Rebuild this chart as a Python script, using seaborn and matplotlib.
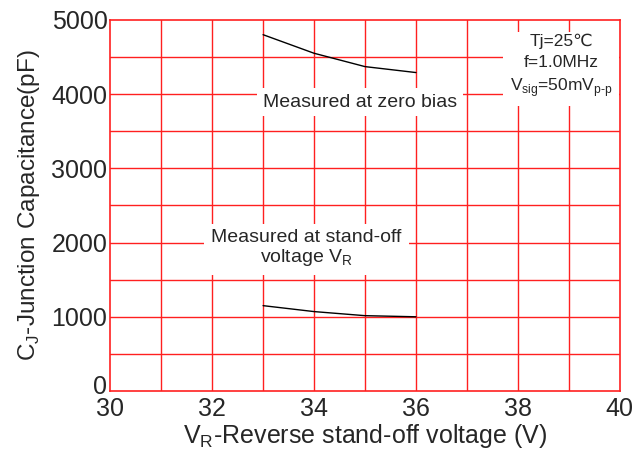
import matplotlib
matplotlib.use('Agg')
import matplotlib.pyplot as plt
import matplotlib.transforms as mtransforms
import seaborn as sns
import pandas as pd

# Donnees
vr_zero = [33, 34, 35, 36]
cj_zero = [4800, 4550, 4370, 4290]
vr_standoff = [33, 34, 35, 36]
cj_standoff = [1150, 1070, 1015, 1000]

x_ticks = [30, 32, 34, 36, 38, 40]
y_ticks = [0, 1000, 2000, 3000, 4000, 5000]

sns.set_style('white')
plt.rcParams['font.family'] = ['Liberation Sans', 'DejaVu Sans']
plt.rcParams['mathtext.fontset'] = 'custom'
plt.rcParams['mathtext.rm'] = 'Liberation Sans'

df_zero = pd.DataFrame({'VR': vr_zero, 'CJ': cj_zero})
df_so = pd.DataFrame({'VR': vr_standoff, 'CJ': cj_standoff})

fig = plt.figure(figsize=(6.37, 4.51), dpi=100)
ax = fig.add_axes([0.173, 0.133, 0.8, 0.823])

ax.set_xlim(30, 40)
ax.set_ylim(0, 5000)

# grille rouge
for xv in range(31, 40):
    ax.axvline(xv, color='#ff2020', lw=1, zorder=1)
for yv in range(500, 5000, 500):
    ax.axhline(yv, color='#ff2020', lw=1, zorder=1)
for s in ax.spines.values():
    s.set_color('#ff2020')
    s.set_linewidth(1.2)

sns.lineplot(data=df_zero, x='VR', y='CJ', ax=ax, color='black', lw=1, zorder=3)
sns.lineplot(data=df_so, x='VR', y='CJ', ax=ax, color='black', lw=1, zorder=3)

ax.set_xticks(x_ticks)
ax.set_yticks(y_ticks)
ax.tick_params(axis='x', labelsize=18, length=0, pad=4)
ax.tick_params(axis='y', labelsize=18, length=0, pad=2)

# le "0" est un peu remonte comme sur l'original
lbl0 = ax.get_yticklabels()[0]
lbl0.set_transform(lbl0.get_transform() +
                   mtransforms.ScaledTranslation(0, 5 / 72, fig.dpi_scale_trans))

ax.set_xlabel(r'V$_\mathregular{R}$-Reverse stand-off voltage (V)', fontsize=18, labelpad=1)
ax.set_ylabel(r'C$_\mathregular{J}$-Junction Capacitance(pF)', fontsize=17.5, labelpad=7)

ax.text(34.9, 3890, 'Measured at zero bias', fontsize=14, ha='center', va='center',
        bbox=dict(facecolor='white', edgecolor='none', pad=4), zorder=4)
ax.text(33.85, 1920, 'Measured at stand-off\nvoltage V$_\\mathregular{R}$', fontsize=14,
        ha='center', va='center', linespacing=1.1,
        bbox=dict(facecolor='white', edgecolor='none', pad=5), zorder=4)
ax.text(38.85, 4370, 'Tj=25\u2103\nf=1.0MHz\nV$_\\mathregular{sig}$=50mV$_\\mathregular{p\\text{-}p}$',
        fontsize=12.5, ha='center', va='center', linespacing=1.45,
        bbox=dict(facecolor='white', edgecolor='none', pad=5), zorder=4)

fig.savefig('out.png', dpi=100)
